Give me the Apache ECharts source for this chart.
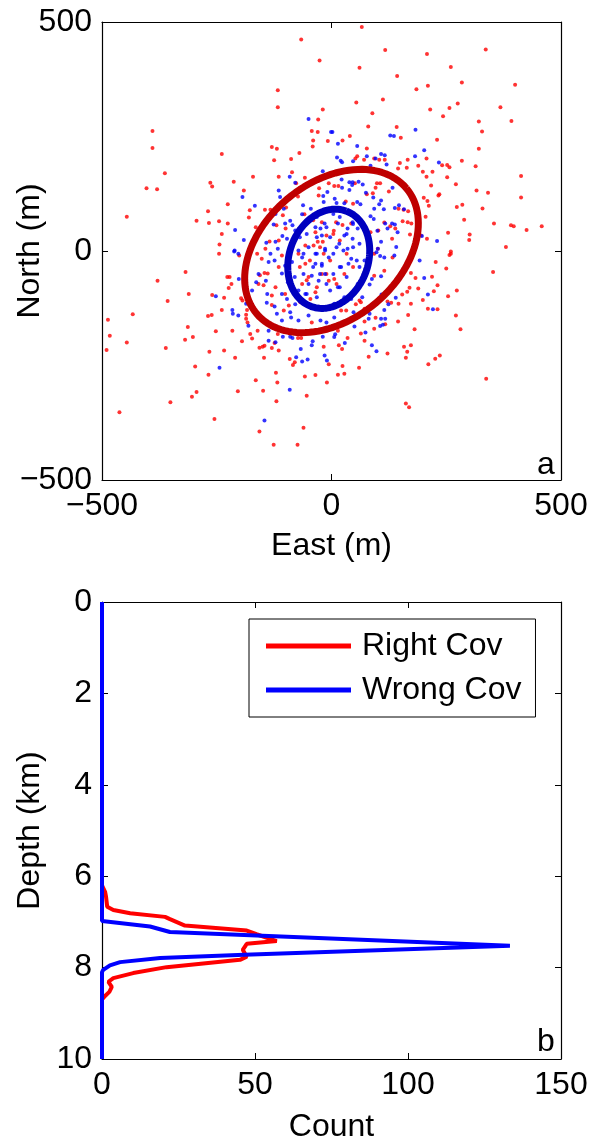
<!DOCTYPE html>
<html><head><meta charset="utf-8">
<script src="https://cdn.jsdelivr.net/npm/echarts@6/dist/echarts.min.js"></script>
<style>html,body{margin:0;padding:0;background:#fff}#c{width:592px;height:1141px}</style>
</head><body><div id="c"></div>
<script>
// ---- Panel a: event locations (East m, North m) ----
const rightCovPoints = [
[-66,462],[-26,416],[-117,351],[-117,314],[-19,309],[-29,287],[-390,262],[-43,262],[-30,260],[-40,241],[-8,240],[-390,225],[-41,228],[-130,227],[-119,223],[-239,212],[-70,214],[-125,198],[-88,201],[-363,170],[-86,172],[-171,162],[-115,162],[-58,160],[-264,149],[-260,141],[-213,151],[-77,148],[-403,137],[-380,135],[-191,132],[-27,137],[-6,148],[-73,119],[-226,102],[-178,89],[-145,90],[-133,90],[-269,87],[-446,75],[-294,66],[-267,61],[-245,65],[-226,60],[-180,73],[-165,52],[-239,37],[-244,14],[-99,95],[-59,80],[-128,80],[-120,56],[-106,78],[-100,49],[-115,23],[-144,5],[-135,21],[-75,34],[-35,41],[-21,63],[-30,20],[-19,20],[-39,12],[-57,12],[-11,34],[-28,121],[-56,63],
[66,489],[117,439],[336,440],[208,430],[61,400],[260,402],[143,382],[284,368],[400,363],[210,361],[185,353],[54,324],[112,331],[275,322],[368,314],[215,309],[257,312],[89,301],[243,294],[321,283],[392,284],[80,272],[142,271],[328,261],[151,247],[40,251],[24,241],[230,243],[321,223],[77,224],[52,202],[56,207],[71,199],[93,202],[104,199],[116,199],[207,202],[284,197],[166,199],[149,192],[164,182],[145,180],[189,186],[241,187],[252,188],[257,183],[314,185],[199,173],[220,173],[207,162],[252,161],[413,164],[271,146],[217,143],[235,124],[233,121],[316,132],[341,127],[413,117],[201,116],[209,109],[212,99],[273,96],[285,101],[329,93],[205,75],[289,68],[354,60],[391,56],[397,54],[425,46],[458,54],[254,40],[301,36],[300,24],[208,27],[380,9],[260,-1],[106,148],[99,148],[96,138],[51,148],[77,124],[90,126],[15,142],[6,142],[125,130],[146,92],[157,90],[167,87],[47,103],[31,108],[174,60],[155,65],[166,63],[139,49],[128,54],[102,45],[85,41],[43,60],[24,57],[10,63],[171,36],[195,34],[5,44],[101,5],[132,27],[115,62],
[-245,-6],[-318,-46],[-379,-65],[-227,-57],[-222,-57],[-218,-72],[-224,-81],[-311,-94],[-260,-96],[-357,-109],[-234,-102],[-197,-103],[-433,-138],[-239,-129],[-269,-142],[-261,-140],[-487,-150],[-483,-185],[-490,-216],[-446,-200],[-313,-166],[-319,-194],[-302,-188],[-252,-175],[-216,-174],[-361,-212],[-266,-220],[-234,-217],[-210,-233],[-297,-252],[-268,-270],[-195,-197],[-173,-191],[-177,-181],[-161,-174],[-157,-211],[-150,-209],[-146,-207],[-130,-212],[-115,-217],[-147,-233],[-165,-282],[-121,-266],[-118,-287],[-149,-305],[-204,-306],[-294,-308],[-304,-318],[-351,-330],[-120,-328],[-462,-352],[-255,-367],[-157,-394],[-126,-423],[-74,-423],[-61,-386],[-54,-316],[-58,-274],[-35,-271],[-10,-287],[-6,-247],[-17,-209],[-91,-236],[-84,-249],[-80,-243],[-124,-201],[-117,-181],[-73,-190],[-66,-190],[-186,-148],[-183,-156],[-184,-129],[-186,-139],[-194,-108],[-146,-48],[-156,-53],[-159,-72],[-148,-75],[-130,-97],[-130,-118],[-139,-49],[-152,-17],[-162,-6],[-108,-10],[-115,-35],[-122,-79],[-101,-94],[-93,-119],[-104,-130],[-68,-112],[-43,-156],[-46,-105],[-64,-72],[-50,-57],[-57,-28],[-72,-6],[-35,-90],[-21,-50],[-6,-65],[-17,-6],[-201,-10],
[352,-46],[257,-9],[260,-6],[227,-24],[250,-38],[173,-48],[183,-59],[219,-56],[231,-75],[170,-80],[165,-89],[189,-82],[273,-86],[223,-88],[154,-95],[254,-99],[199,-107],[173,-115],[146,-115],[122,-110],[130,-113],[210,-126],[231,-127],[167,-140],[271,-141],[145,-154],[72,-154],[96,-146],[117,-160],[281,-171],[181,-171],[64,-180],[35,-190],[72,-196],[16,-206],[23,-214],[173,-206],[158,-209],[165,-220],[162,-233],[122,-224],[81,-231],[226,-235],[236,-228],[211,-247],[24,-251],[60,-255],[14,-270],[28,-268],[337,-279],[162,-333],[169,-341],[61,-108],[64,-112],[93,-6],[133,-14],[115,-43],[93,-54],[28,-50],[21,-130],[32,-130],[72,-126],[53,-116],[6,-61],[14,-174],[93,-170],
[-40,67],[4,37],[-25,8],[18,23],[-47,-21],[-11,-50],[33,-6],[-69,-35],[-32,-79],[11,-72],[47,-35],[-54,-64],[-3,-21]
];
const wrongCovPoints = [
[-50,288],[-1,260],[-19,174],[-91,162],[-194,118],[-115,132],[-112,118],[-167,99],[-104,92],[-79,149],[-18,120],[-9,129],[-17,107],[-62,100],[-45,92],[-64,80],[-210,46],[-191,24],[-126,58],[-101,60],[-90,66],[-85,56],[-107,33],[-97,27],[-142,18],[-122,20],[-117,5],[-211,1],[-35,52],[-15,60],[-24,49],[-32,30],[-21,34],[-14,5],[-79,45],[-122,81],
[2,260],[183,265],[128,252],[136,251],[14,234],[56,229],[202,220],[12,204],[47,196],[77,207],[96,202],[108,212],[116,209],[182,207],[234,193],[23,194],[20,197],[120,189],[85,186],[22,156],[39,150],[46,150],[59,151],[68,145],[45,144],[23,138],[39,133],[133,138],[75,127],[91,117],[108,110],[104,102],[63,102],[56,107],[7,114],[11,105],[28,104],[93,92],[114,91],[138,94],[147,100],[158,91],[85,76],[92,70],[132,60],[138,58],[117,60],[197,33],[230,22],[100,44],[108,20],[122,49],[144,41],[141,9],[46,63],[57,49],[35,49],[14,60],[28,34],[46,27],[61,16],[17,16],[35,5],[101,5],
[-252,-99],[-216,-129],[-215,-137],[-203,-141],[-202,-61],[-212,-1],[-203,-6],[-244,-255],[-91,-303],[-146,-370],[-186,-115],[-181,-163],[-137,-196],[-106,-187],[-90,-187],[-85,-190],[-67,-214],[-77,-232],[-64,-241],[-52,-237],[-43,-206],[-41,-197],[-19,-187],[-15,-228],[-10,-239],[-122,-199],[-137,-174],[-108,-152],[-88,-145],[-72,-152],[-50,-141],[-24,-152],[-11,-156],[-173,-86],[-164,-68],[-159,-50],[-143,-65],[-140,-94],[-141,-113],[-124,-121],[-119,-137],[-108,-94],[-97,-105],[-90,-134],[-79,-116],[-137,-24],[-124,-21],[-101,-32],[-80,-57],[-72,-86],[-57,-94],[-50,-72],[-43,-54],[-28,-65],[-14,-50],[-35,-28],[-21,-32],[-6,-14],[-64,-14],[-86,-24],[-35,-6],[-133,-6],[-95,-68],[-108,-49],
[192,-21],[202,-59],[210,-95],[221,-127],[98,-219],[88,-206],[74,-178],[29,-201],[6,-188],[8,-182],[50,-165],[106,-164],[112,-161],[81,-148],[83,-137],[108,-148],[117,-148],[115,-129],[124,-116],[140,-102],[109,-95],[83,-73],[108,-55],[88,-61],[106,-11],[115,-14],[137,-10],[98,-3],[72,-21],[61,-35],[43,-17],[21,-35],[14,-79],[28,-101],[6,-115],[43,-105],[57,-72],[67,-101],[6,-145],[48,-134],
[-54,37],[-11,52],[33,37],[47,8],[4,-6],[-32,-6],[-61,-6],[18,-35],[-25,-50],[4,-50],[33,-57],[-61,-50],[-32,-101],[-3,-86],[18,-79],[55,-21],[-40,-35],[-69,30],[18,74],[47,59],[4,81],[-32,74],[-72,1],[37,-28],[-14,1],[11,8],[-3,30],[-50,8],[-21,-28],[26,1],[-11,-72],[-54,-94]
];
// error ellipses: [centerEast, centerNorth, semiMajor, semiMinor, angleDeg]
const rightCovEllipse = [0, 0, 213, 149, 40];
const wrongCovEllipse = [-6, -17, 111, 86, 70];

// ---- Panel b: depth histograms [count, depth km] ----
const rightCovDepth = [[0,0],[0,6.2],[1,6.34],[1.3,6.44],[1.7,6.67],[3.7,6.74],[9.2,6.81],[20.6,6.89],[22.2,6.94],[27.1,7.08],[47.3,7.19],[50.5,7.27],[57.1,7.42],[47.3,7.48],[46,7.61],[47.3,7.76],[45.1,7.83],[21.1,7.99],[10.2,8.12],[3.7,8.23],[2.1,8.31],[3.2,8.42],[2.4,8.53],[1,8.62],[0,8.7],[0,10]];
const wrongCovDepth = [[0,0],[0,6.98],[0.6,7.0],[15.7,7.10],[22.2,7.22],[133.3,7.52],[46.5,7.72],[19,7.79],[5.9,7.88],[2.6,7.95],[0.4,8.05],[0,8.1],[0,10]];

const xTicksA = [-500, 500, 500];   // min, max, interval
const depthTicks = [0, 10, 2];
const countTicks = [0, 150, 50];

function ellipsePts(e) {
  const [cx, cy, a, b, ang] = e; const p = ang * Math.PI / 180; const out = [];
  for (let i = 0; i <= 120; i++) {
    const t = i / 120 * 2 * Math.PI;
    out.push([cx + a * Math.cos(t) * Math.cos(p) - b * Math.sin(t) * Math.sin(p),
              cy + a * Math.cos(t) * Math.sin(p) + b * Math.sin(t) * Math.cos(p)]);
  }
  return out;
}

const FONT = 'Liberation Sans, Arial, Helvetica, sans-serif';
const fmt = v => v < 0 ? '\u2212' + Math.abs(v) : String(v);
const line = { show: true, onZero: false, lineStyle: { color: '#000', width: 1.2 } };
const tick = { show: true, inside: true, length: 6, lineStyle: { color: '#000', width: 1 } };
const lbl = { fontSize: 32, color: '#000', fontFamily: FONT, formatter: fmt };
const nameStyle = { fontSize: 32, color: '#000', fontFamily: FONT };

function mainAxis(grid, pos, r, name, gap, inverse) {
  return { type: 'value', gridIndex: grid, position: pos, min: r[0], max: r[1], interval: r[2], inverse: !!inverse,
    name: name, nameLocation: 'middle', nameGap: gap, nameTextStyle: nameStyle, nameMoveOverlap: false,
    axisLine: line, axisTick: tick, axisLabel: Object.assign({ margin: 10, hideOverlap: false }, lbl), splitLine: { show: false } };
}
function mirrorAxis(grid, pos, r, inverse) {
  return { type: 'value', gridIndex: grid, position: pos, min: r[0], max: r[1], interval: r[2], inverse: !!inverse,
    axisLine: line, axisTick: tick, axisLabel: { show: false }, splitLine: { show: false } };
}

const chart = echarts.init(document.getElementById('c'), null, { renderer: 'canvas' });
chart.setOption({
  animation: false,
  backgroundColor: '#fff',
  textStyle: { fontFamily: FONT },
  grid: [{ left: 102, top: 22, width: 459, height: 458, containLabel: false, outerBoundsMode: 'none' },
         { left: 102, top: 602, width: 459, height: 457, containLabel: false, outerBoundsMode: 'none' }],
  xAxis: [mainAxis(0, 'bottom', xTicksA, 'East (m)', 50), mirrorAxis(0, 'top', xTicksA),
          mainAxis(1, 'bottom', countTicks, 'Count', 52), mirrorAxis(1, 'top', countTicks)],
  yAxis: [mainAxis(0, 'left', xTicksA, 'North (m)', 56), mirrorAxis(0, 'right', xTicksA),
          mainAxis(1, 'left', depthTicks, 'Depth (km)', 56, true), mirrorAxis(1, 'right', depthTicks, true)],
  legend: { data: ['Right Cov', 'Wrong Cov'], orient: 'vertical', left: 249, top: 619, icon: 'rect',
    itemWidth: 85, itemHeight: 5, itemGap: 12, padding: [11, 14, 11, 17], borderColor: '#000', borderWidth: 1,
    backgroundColor: '#fff', selectedMode: false,
    textStyle: { fontSize: 32, color: '#000', fontFamily: FONT, padding: [0, 0, 0, 6] } },
  graphic: [
    { type: 'text', left: 537, top: 449, style: { text: 'a', fontSize: 32, fill: '#000', fontFamily: FONT } },
    { type: 'text', left: 537, top: 1026, style: { text: 'b', fontSize: 32, fill: '#000', fontFamily: FONT } }
  ],
  series: [
    { type: 'scatter', name: 'rightPts', xAxisIndex: 0, yAxisIndex: 0, data: rightCovPoints, symbolSize: 4, itemStyle: { color: '#ff0000' }, silent: true },
    { type: 'scatter', name: 'wrongPts', xAxisIndex: 0, yAxisIndex: 0, data: wrongCovPoints, symbolSize: 4, itemStyle: { color: '#0000ff' }, silent: true },
    { type: 'line', name: 'rightEll', xAxisIndex: 0, yAxisIndex: 0, data: ellipsePts(rightCovEllipse), showSymbol: false, symbol: 'none', smooth: false, lineStyle: { color: '#bf0000', width: 7 }, silent: true },
    { type: 'line', name: 'wrongEll', xAxisIndex: 0, yAxisIndex: 0, data: ellipsePts(wrongCovEllipse), showSymbol: false, symbol: 'none', smooth: false, lineStyle: { color: '#0000bf', width: 7 }, silent: true },
    { type: 'line', name: 'Right Cov', xAxisIndex: 2, yAxisIndex: 2, data: rightCovDepth, symbol: 'none', lineStyle: { color: '#ff0000', width: 4 }, itemStyle: { color: '#ff0000' }, silent: true },
    { type: 'line', name: 'Wrong Cov', xAxisIndex: 2, yAxisIndex: 2, data: wrongCovDepth, symbol: 'none', lineStyle: { color: '#0000ff', width: 4 }, itemStyle: { color: '#0000ff' }, silent: true }
  ]
});
</script></body></html>
